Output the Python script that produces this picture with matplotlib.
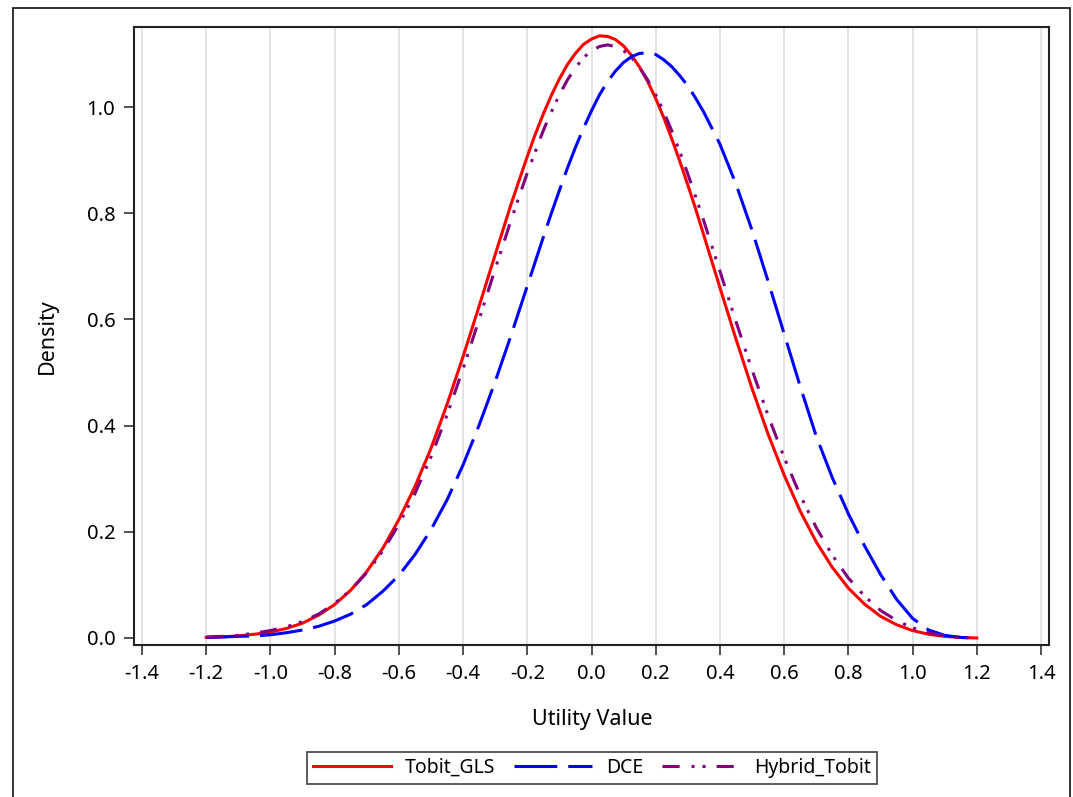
import matplotlib

matplotlib.use('Agg')

import matplotlib.pyplot as plt
from matplotlib.patches import Rectangle

# Density curves (step 0.05, finer near the peaks)
utility = [-1.2, -1.15, -1.1, -1.05, -1.0, -0.95, -0.9, -0.85, -0.8, -0.75,
           -0.7, -0.65, -0.6, -0.55, -0.5, -0.45, -0.4, -0.35, -0.3, -0.25,
           -0.2, -0.175, -0.15, -0.125, -0.1, -0.075, -0.05, -0.025, 0.0, 0.025,
           0.05, 0.075, 0.1, 0.125, 0.15, 0.175, 0.2, 0.225, 0.25, 0.275,
           0.3, 0.325, 0.35, 0.4, 0.45, 0.5, 0.55, 0.6, 0.65, 0.7,
           0.75, 0.8, 0.85, 0.9, 0.95, 1.0, 1.05, 1.1, 1.15, 1.2]

tobit_gls = [0.001, 0.002, 0.004, 0.007, 0.011, 0.018, 0.028, 0.043, 0.063, 0.090,
             0.125, 0.169, 0.223, 0.285, 0.357, 0.440, 0.530, 0.625, 0.722, 0.818,
             0.907, 0.949, 0.987, 1.022, 1.053, 1.080, 1.101, 1.118, 1.128, 1.134,
             1.133, 1.127, 1.115, 1.097, 1.075, 1.048, 1.016, 0.980, 0.940, 0.898,
             0.853, 0.807, 0.758, 0.660, 0.563, 0.470, 0.384, 0.307, 0.239, 0.181,
             0.133, 0.094, 0.064, 0.041, 0.025, 0.014, 0.007, 0.003, 0.001, 0.000]

dce = [0.001, 0.002, 0.003, 0.004, 0.006, 0.010, 0.015, 0.022, 0.032, 0.045,
       0.063, 0.088, 0.118, 0.157, 0.204, 0.260, 0.326, 0.401, 0.483, 0.571,
       0.663, 0.709, 0.755, 0.800, 0.843, 0.885, 0.924, 0.960, 0.993, 1.023,
       1.048, 1.068, 1.084, 1.095, 1.101, 1.102, 1.099, 1.089, 1.076, 1.059,
       1.040, 1.016, 0.990, 0.930, 0.855, 0.768, 0.672, 0.573, 0.474, 0.380,
       0.302, 0.234, 0.174, 0.120, 0.073, 0.037, 0.015, 0.005, 0.001, 0.000]

hybrid_tobit = [0.002, 0.003, 0.005, 0.009, 0.014, 0.021, 0.031, 0.045, 0.065, 0.090,
                0.123, 0.164, 0.214, 0.272, 0.341, 0.420, 0.507, 0.600, 0.695, 0.788,
                0.876, 0.916, 0.956, 0.991, 1.023, 1.051, 1.074, 1.093, 1.106, 1.114,
                1.117, 1.114, 1.106, 1.093, 1.074, 1.051, 1.023, 0.991, 0.955, 0.916,
                0.874, 0.830, 0.785, 0.691, 0.596, 0.505, 0.419, 0.340, 0.269, 0.208,
                0.156, 0.113, 0.079, 0.052, 0.033, 0.019, 0.010, 0.004, 0.001, 0.000]

x_ticks = [-1.4, -1.2, -1.0, -0.8, -0.6, -0.4, -0.2, 0.0, 0.2, 0.4, 0.6, 0.8, 1.0, 1.2, 1.4]
y_ticks = [0.0, 0.2, 0.4, 0.6, 0.8, 1.0]

plt.rcParams.update({
    'font.family': ['Noto Sans', 'DejaVu Sans'],
    'font.size': 14.5,
    'axes.unicode_minus': False,
})

W, H = 1073, 797
fig = plt.figure(figsize=(W / 100, H / 100), dpi=100)
ax = fig.add_axes([134 / W, 1 - 645 / H, (1049 - 134) / W, (645 - 27) / H])

# outer frame around the whole graph
fig.patches.append(Rectangle((13 / W, -0.05), (1070 - 13) / W, 1.05 - 8 / H,
                             transform=fig.transFigure, fill=False,
                             edgecolor='#222222', linewidth=1.3))

lw = 2.2
ax.plot(utility, tobit_gls, color='#FF0000', linewidth=lw, label='Tobit_GLS')
ax.plot(utility, dce, color='#0000FF', linewidth=lw, label='DCE',
        dashes=(14, 3.6), dash_capstyle='butt')
ax.plot(utility, hybrid_tobit, color='#800080', linewidth=lw, label='Hybrid_Tobit',
        dashes=(5.6, 3.9, 1.0, 2.6, 1.0, 3.6), dash_capstyle='butt')

ax.set_xlim(-1.425, 1.425)
ax.set_ylim(-0.0132, 1.1507)
ax.set_xticks(x_ticks)
ax.set_xticklabels([f'{v:.1f}' for v in x_ticks])
ax.set_yticks(y_ticks)
ax.set_yticklabels([f'{v:.1f}' for v in y_ticks])

ax.grid(axis='x', color='#DCDCDC', linewidth=1.1)
ax.set_axisbelow(True)
ax.tick_params(length=7.5, width=1.1, color='#222222', pad=6, labelsize=14.5)
for sp in ax.spines.values():
    sp.set_linewidth(1.5)
    sp.set_color('#222222')

fig.text(592 / W, 1 - 720 / H, 'Utility Value', ha='center', va='center', fontsize=15.5)
fig.text(47 / W, 1 - 336 / H, 'Density', ha='center', va='center', rotation=90, fontsize=15.5)

leg = fig.legend(loc='center', bbox_to_anchor=(592 / W, 1 - 768 / H), ncol=3,
                 frameon=True, fancybox=False, edgecolor='#222222', fontsize=14,
                 handlelength=4.0, handletextpad=0.7, columnspacing=1.0,
                 borderpad=0.3)
leg.get_frame().set_linewidth(1.3)

fig.savefig('out.png', dpi=100, facecolor='white')
